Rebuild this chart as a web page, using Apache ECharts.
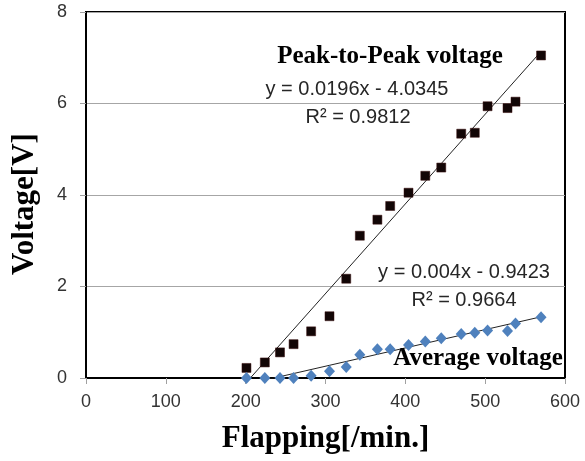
<!DOCTYPE html>
<html>
<head>
<meta charset="utf-8">
<script src="https://cdn.jsdelivr.net/npm/echarts@6/dist/echarts.min.js"></script>
<style>html,body{margin:0;padding:0;background:#fff}#c{width:585px;height:461px}</style>
</head>
<body>
<div id="c"></div>
<script>
// Data
var flapping = [201, 224, 243, 260, 282, 305, 326, 343, 365, 381, 404, 425, 445, 470, 487, 503, 528, 538, 570];
var peakToPeak = [0.22, 0.34, 0.56, 0.74, 1.02, 1.35, 2.17, 3.11, 3.46, 3.76, 4.05, 4.42, 4.60, 5.34, 5.36, 5.94, 5.90, 6.04, 7.05];
var averageV = [0, 0, 0, 0, 0.05, 0.15, 0.24, 0.51, 0.63, 0.63, 0.72, 0.80, 0.87, 0.96, 0.99, 1.04, 1.03, 1.19, 1.33];
// Trendline coefficients (slope, intercept) as printed on the chart
var peakFit = [0.0196, -4.0345];
var avgFit = [0.004, -0.9423];
var peakR2 = '0.9812';
var avgR2 = '0.9664';
var xTicks = [0, 100, 200, 300, 400, 500, 600];
var yTicks = [0, 2, 4, 6, 8];

function pairs(xs, ys) { return xs.map(function (x, i) { return [x, ys[i]]; }); }
function fitLine(fit) {
  var x0 = Math.min.apply(null, flapping), x1 = Math.max.apply(null, flapping);
  return [[x0, fit[0] * x0 + fit[1]], [x1, fit[0] * x1 + fit[1]]];
}

var chart = echarts.init(document.getElementById('c'), null, {renderer: 'canvas'});
var serif = '"Liberation Serif", "Times New Roman", serif';
var sans = '"Liberation Sans", Arial, sans-serif';

chart.setOption({
  animation: false,
  backgroundColor: '#fff',
  grid: {left: 86, top: 12, right: 20, bottom: 83, show: true, borderColor: '#000', borderWidth: 2},
  xAxis: {
    type: 'value', min: xTicks[0], max: xTicks[xTicks.length - 1], interval: 100,
    name: 'Flapping[/min.]', nameLocation: 'middle', nameGap: 45,
    nameTextStyle: {fontFamily: serif, fontWeight: 'bold', fontSize: 31, color: '#000'},
    axisLine: {show: true, lineStyle: {color: '#000', width: 2}},
    axisTick: {show: true, inside: false, length: 6, lineStyle: {color: '#a0a0a0'}},
    axisLabel: {margin: 15, fontFamily: sans, fontSize: 18, color: '#333'},
    splitLine: {show: false}
  },
  yAxis: {
    type: 'value', min: yTicks[0], max: yTicks[yTicks.length - 1], interval: 2,
    name: 'Voltage[V]', nameLocation: 'middle', nameGap: 46,
    nameTextStyle: {fontFamily: serif, fontWeight: 'bold', fontSize: 31, color: '#000', padding: [0, 18, 0, 0]},
    axisLine: {show: true, lineStyle: {color: '#000', width: 2}},
    axisTick: {show: true, inside: false, length: 6, lineStyle: {color: '#a0a0a0'}},
    axisLabel: {margin: 19, fontFamily: sans, fontSize: 18, color: '#333'},
    splitLine: {show: true, lineStyle: {color: '#a6a6a6', width: 1}}
  },
  series: [
    {
      name: 'Peak-to-Peak trend', type: 'line', data: fitLine(peakFit), symbol: 'none', clip: true,
      lineStyle: {color: '#222', width: 1}, z: 2
    },
    {
      name: 'Average trend', type: 'line', data: fitLine(avgFit), symbol: 'none', clip: true,
      lineStyle: {color: '#222', width: 1}, z: 2
    },
    {
      name: 'Peak-to-Peak voltage', type: 'scatter', data: pairs(flapping, peakToPeak),
      symbol: 'rect', symbolSize: 9,
      itemStyle: {color: '#120606', borderColor: '#3a0f0f', borderWidth: 0.5, opacity: 1}, z: 3
    },
    {
      name: 'Average voltage', type: 'scatter', data: pairs(flapping, averageV),
      symbol: 'diamond', symbolSize: [11, 12],
      itemStyle: {color: '#4f81bd', opacity: 1}, z: 3
    }
  ],
  graphic: [
    {type: 'text', x: 390, y: 57, z: 10, style: {text: 'Peak-to-Peak voltage', textAlign: 'center', textVerticalAlign: 'middle', font: 'bold 25px ' + serif, fill: '#000'}},
    {type: 'text', x: 357, y: 89, z: 10, style: {text: 'y = ' + peakFit[0] + 'x - ' + Math.abs(peakFit[1]).toFixed(4), textAlign: 'center', textVerticalAlign: 'middle', font: '20px ' + sans, fill: '#262626'}},
    {type: 'text', x: 358, y: 117, z: 10, style: {text: 'R\u00b2 = ' + peakR2, textAlign: 'center', textVerticalAlign: 'middle', font: '20px ' + sans, fill: '#262626'}},
    {type: 'text', x: 464, y: 272, z: 10, style: {text: 'y = ' + avgFit[0] + 'x - ' + Math.abs(avgFit[1]).toFixed(4), textAlign: 'center', textVerticalAlign: 'middle', font: '20px ' + sans, fill: '#262626'}},
    {type: 'text', x: 464, y: 300, z: 10, style: {text: 'R\u00b2 = ' + avgR2, textAlign: 'center', textVerticalAlign: 'middle', font: '20px ' + sans, fill: '#262626'}},
    {type: 'text', x: 478, y: 359, z: 10, style: {text: 'Average voltage', textAlign: 'center', textVerticalAlign: 'middle', font: 'bold 25px ' + serif, fill: '#000'}}
  ]
});
</script>
</body>
</html>
